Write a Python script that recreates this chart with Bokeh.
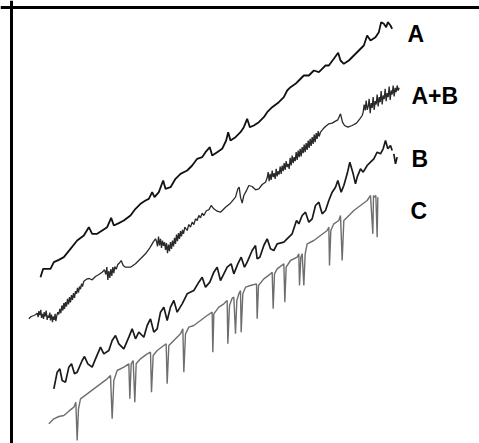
from bokeh.plotting import figure
from bokeh.models import Range1d, Span, ColumnDataSource
from bokeh.core.properties import value
from bokeh.embed import file_html
from bokeh.resources import INLINE

A_X = [120, 128, 150, 160, 175, 190, 210, 230, 250, 265, 275, 290, 305, 320, 332, 340, 355, 370, 390,
       405, 420, 435, 445, 455, 462, 475, 488, 495, 510, 525, 540, 560, 575, 590, 605, 615, 628, 635,
       650, 665, 677, 683, 690, 705, 720, 730, 740, 748, 760, 775, 790, 800, 815, 835, 850, 860, 870,
       885, 895, 910, 925, 940, 955, 965, 975, 985, 1000, 1013, 1020, 1030, 1045, 1060, 1075, 1090,
       1100, 1110, 1125, 1135, 1142, 1150, 1157, 1162, 1170, 1175]
A_Y = [830, 805, 805, 785, 778, 770, 745, 720, 705, 680, 700, 700, 690, 680, 652, 675, 668, 660, 645,
       625, 610, 600, 595, 575, 590, 575, 540, 565, 560, 535, 520, 510, 495, 475, 470, 455, 440, 465,
       455, 445, 420, 395, 420, 410, 395, 380, 355, 380, 375, 365, 350, 335, 320, 305, 290, 270, 260,
       250, 240, 225, 225, 210, 215, 205, 195, 195, 175, 157, 180, 190, 180, 165, 150, 135,
       105, 120, 110, 95, 65, 70, 80, 65, 75, 85]

AB_X = [85, 92, 100, 106,
        110, 113, 115, 118, 121, 123, 126, 129, 131, 134, 137, 140, 142, 145, 148, 150, 153, 156, 158,
        161, 164, 166, 169, 172, 175, 178,
        181, 184, 187, 190, 192, 195, 198, 201, 204, 207, 210, 213, 216, 219, 222, 225, 228, 231, 234,
        237, 240, 243, 246, 250,
        258, 266, 275, 285, 295, 305, 312,
        316, 319, 322, 325, 328, 331, 334, 337, 340, 343, 347, 352, 358, 362,
        368, 375, 390, 405, 420, 435, 448, 458, 465,
        468, 471, 474, 477, 480, 483, 486, 489, 492, 495, 498, 501, 504, 507, 510, 513, 516, 519, 522,
        525, 528, 531, 534, 537, 540, 543, 546, 549, 553,
        560, 565, 570, 575, 580, 585, 590, 595, 600, 605, 610, 618, 625, 632, 640, 650, 660, 675, 690,
        705, 712, 716, 720, 725, 730, 737, 745, 755, 765, 775, 785, 795,
        800, 803, 806, 809, 812, 815, 818, 821, 824, 827, 830, 833, 836, 839, 842, 845, 848, 851, 854,
        857, 860, 863, 866, 869, 872, 875, 878, 881, 884, 887, 890, 893, 896, 899, 902, 905, 908, 911,
        914, 917, 920, 923, 926, 929, 932, 935, 938, 941, 944, 947, 950, 953, 956, 960,
        968, 975, 985, 995, 1005, 1012, 1020, 1026, 1032, 1042, 1055, 1068, 1078, 1085,
        1088, 1091, 1094, 1097, 1100, 1103, 1106, 1109, 1112, 1115, 1118, 1121, 1124, 1127, 1130, 1133,
        1136, 1139, 1142, 1145, 1148, 1151, 1154, 1157, 1160, 1163, 1166, 1169, 1172, 1175, 1178, 1181,
        1184, 1187, 1190, 1193, 1196]
AB_Y = [955, 948, 945, 942,
        938, 950, 932, 944, 928, 952, 940, 955, 935, 948, 930, 958, 945, 952, 936, 960, 942, 965, 948,
        958, 940, 962, 945, 935, 942, 925,
        938, 915, 930, 908, 925, 905, 918, 895, 912, 890, 906, 884, 898, 878, 892, 872, 880, 862, 876,
        858, 866, 850, 858, 842,
        836, 834, 838, 828, 822, 815, 808,
        822, 800, 838, 812, 832, 806, 826, 800, 818, 798, 806, 792, 786, 780,
        795, 800, 800, 790, 775, 760, 742, 725, 715,
        722, 738, 708, 735, 715, 742, 720, 736, 725, 748, 728, 758, 732, 752, 725, 745, 720, 738, 712,
        730, 702, 722, 698, 715, 692, 708, 688, 700, 680,
        690, 672, 680, 665, 672, 655, 660, 645, 652, 638, 645, 630, 628, 615, 625, 632, 635, 620, 608,
        590, 565, 560, 590, 608, 585, 572, 555, 558, 568, 565, 552, 545,
        532, 515, 542, 520, 538, 510, 530, 518, 535, 505, 528, 512, 522, 498, 520, 495, 512, 488, 508,
        482, 500, 490, 505, 472, 495, 465, 488, 470, 482, 455, 478, 450, 470, 445, 468, 440, 458, 432,
        455, 428, 448, 420, 442, 415, 436, 410, 430, 402, 425, 398, 415, 392, 408, 395,
        385, 378, 370, 368, 362, 358, 340, 365, 375, 380, 375, 368, 355, 345,
        335, 312, 330, 300, 328, 318, 295, 338, 308, 322, 290, 328, 302, 312, 282, 318,
        290, 305, 272, 312, 285, 296, 265, 302, 278, 290, 258, 298, 270, 282, 255, 288,
        262, 275, 255, 270, 262]

B_X = [160, 170, 178, 185, 195, 205, 213, 222, 230, 245, 252, 262, 275, 285, 300, 310, 325, 335, 345,
       355, 370, 385, 395, 405, 415, 425, 430, 440, 450, 460, 470, 480, 490, 500, 510, 520, 530, 545,
       560, 580, 595, 605, 615, 628, 640, 650, 660, 670, 680, 692, 700, 712, 722, 732, 740, 755, 765,
       770, 778, 790, 800, 810, 820, 830, 850, 865, 875, 888, 895, 905, 915, 925, 935, 945, 955, 965,
       975, 985, 995, 1005, 1012, 1022, 1030, 1040, 1048, 1058, 1065, 1070, 1080, 1088, 1100, 1110,
       1120, 1130, 1140, 1148, 1155, 1162, 1170, 1175]
B_Y = [1165, 1115, 1105, 1140, 1145, 1100, 1090, 1120, 1115, 1080, 1068, 1090, 1100, 1075, 1040, 1060,
       1050, 1020, 1005, 1030, 1045, 1010, 985, 1015, 995, 1005, 1010, 975, 955, 995, 985, 935, 920,
       960, 920, 900, 935, 910, 880, 870, 845, 830, 860, 845, 815, 800, 840, 820, 800, 790, 820, 790,
       770, 800, 785, 750, 735, 775, 770, 735, 715, 745, 750, 730, 725, 710, 700, 660, 670, 645, 635,
       665, 655, 615, 605, 640, 630, 600, 575, 560, 540, 575, 555, 520, 485, 520, 550, 530, 505, 515,
       495, 485, 475, 455, 460, 445, 420, 445, 435, 450]
B2_X = [1180, 1185, 1190]
B2_Y = [460, 490, 470]

C_X = [145, 160, 175, 190, 205, 220, 226, 230, 234, 240, 260, 280, 300, 320, 330, 335, 340, 350, 370,
       385, 388, 392, 398, 403, 407, 420, 440, 450, 453, 458, 470, 490, 497, 500, 505, 520, 540, 547,
       550, 555, 565, 580, 600, 620, 635, 637, 640, 655, 670, 680, 682, 687, 695, 700, 705, 709, 715,
       720, 722, 727, 735, 750, 768, 770, 774, 790, 810, 815, 818, 822, 830, 850, 853, 857, 870, 890,
       895, 897, 901, 905, 910, 914, 920, 940, 960, 980, 985, 987, 991, 1000, 1015, 1020, 1025, 1030,
       1040, 1060, 1080, 1100, 1110, 1117, 1119, 1121, 1126, 1130, 1132]
C_Y = [1270, 1255, 1248, 1245, 1232, 1220, 1205, 1320, 1225, 1195, 1180, 1165, 1150, 1135, 1125, 1255,
       1140, 1110, 1100, 1090, 1195, 1090, 1080, 1205, 1090, 1075, 1060, 1055, 1175, 1065, 1050, 1035,
       1030, 1150, 1035, 1020, 1000, 985, 1115, 1000, 980, 975, 960, 945, 935, 1055, 940, 920, 910,
       900, 1030, 915, 893, 890, 1000, 900, 880, 870, 995, 880, 860, 855, 850, 955, 855, 835, 820, 815,
       925, 820, 805, 790, 905, 800, 780, 770, 760, 855, 770, 760, 855, 760, 730, 720, 705, 690, 680,
       795, 690, 670, 660, 645, 780, 660, 650, 630, 615, 600, 585, 700, 585, 590, 585, 710, 590]

LABELS = ["A", "A+B", "B", "C"]
LABEL_X = [1221, 1233, 1233, 1230]
LABEL_Y = [99, 285, 474, 630]

p = figure(width=479, height=443, x_range=Range1d(0, 1437), y_range=Range1d(1329, 0),
           output_backend="svg", toolbar_location=None, min_border=0,
           x_axis_location=None, y_axis_location=None)
p.grid.visible = False
p.outline_line_color = None
p.background_fill_color = "white"

p.line(A_X, A_Y, line_color="#111111", line_width=1.8)
p.line(AB_X, AB_Y, line_color="#2a2a2a", line_width=1.3)
p.line(B_X, B_Y, line_color="#1a1a1a", line_width=1.7)
p.line(B2_X, B2_Y, line_color="#1a1a1a", line_width=1.7)
p.line(C_X, C_Y, line_color="#6e6e6e", line_width=1.4)

src = ColumnDataSource(dict(x=LABEL_X, y=LABEL_Y, t=LABELS))
p.text(x="x", y="y", text="t", source=src, text_font=value("Liberation Sans"),
       text_font_size="23px", text_font_style="bold", text_color="black",
       text_baseline="alphabetic", text_align="left")

p.add_layout(Span(location=33, dimension="height", line_color="black", line_width=3))
p.add_layout(Span(location=21, dimension="width", line_color="black", line_width=3))

open("out.html", "w").write(file_html(p, INLINE))
